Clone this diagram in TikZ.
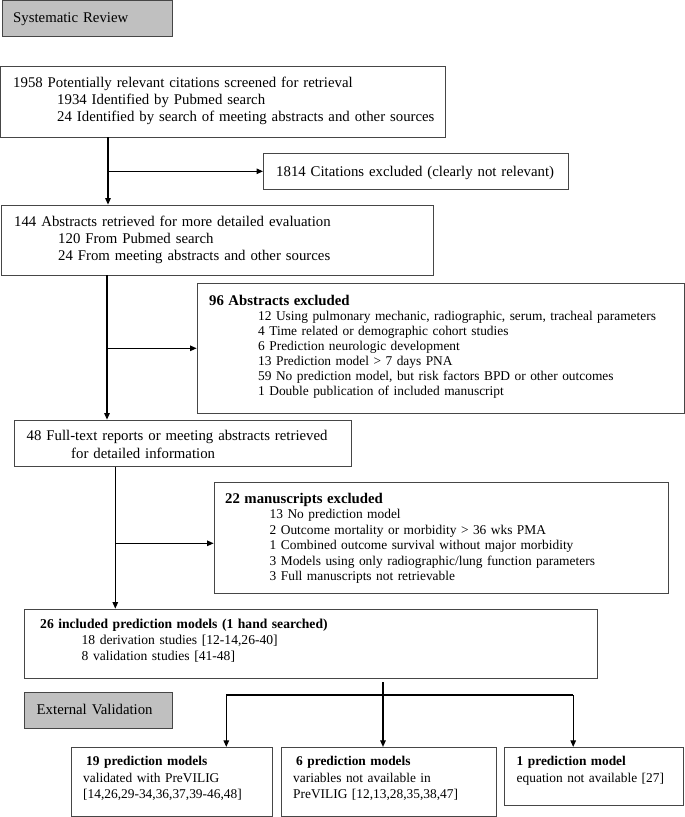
\documentclass[tikz,border=0pt]{standalone}
\usepackage{fontspec}
\setmainfont{Liberation Serif}
\usetikzlibrary{arrows.meta,fit}
\definecolor{boxgray}{RGB}{192,192,192}
\definecolor{edgec}{RGB}{70,70,70}
\newcommand\ind[1]{\hspace*{#1pt}}
\begin{document}
\begin{tikzpicture}[x=1pt,y=-1pt,
  box/.style={draw=edgec, line width=0.8pt, inner sep=0pt},
  graybox/.style={box, fill=boxgray},
  txt/.style={anchor=base west, inner sep=0pt, align=left, text width=640pt},
  wire/.style={draw=black, line width=1.1pt},
  conn/.style={wire, -{Triangle[length=6.5pt,width=5.5pt]}},
  ftop/.style={font={\fontsize{14.8}{17}\selectfont}},
  fexc/.style={font={\fontsize{13.4}{15.2}\selectfont}},
  fbot/.style={font={\fontsize{13.4}{16.7}\selectfont}},
]
\useasboundingbox (0,0) rectangle (685,817);

% boxes
\node[graybox, fit={(2,0.5) (172,36)}] (sr) {};
\node[box, fit={(0.7,66.3) (445.6,137)}] (b1) {};
\node[box, fit={(263.4,153.3) (568,189.3)}] (e1) {};
\node[box, fit={(1,205) (433,275)}] (b2) {};
\node[box, fit={(197,283) (684,413)}] (e2) {};
\node[box, fit={(14.3,420) (351.7,466.7)}] (b3) {};
\node[box, fit={(214,482.7) (668.4,593.3)}] (e3) {};
\node[box, fit={(24,609) (597.6,678.3)}] (b4) {};
\node[graybox, fit={(24,692.3) (172,728.3)}] (ev) {};
\node[box, fit={(71,747.3) (272.5,816.3)}] (c1) {};
\node[box, fit={(281.5,747.3) (495.9,816.3)}] (c2) {};
\node[box, fit={(504.6,747.3) (683.7,805)}] (c3) {};

% texts
\node[txt, ftop] (srt) at (13,22.5) {Systematic Review};
\node[txt, font={\fontsize{14.8}{16.7}\selectfont}] (b1t) at (13,87.7)
  {1958 Potentially relevant citations screened for retrieval\\
   \ind{44}1934 Identified by Pubmed search\\
   \ind{44}24 Identified by search of meeting abstracts and other sources};
\node[txt, ftop] (e1t) at (276,176) {1814 Citations excluded (clearly not relevant)};
\node[txt, font={\fontsize{14.8}{17.4}\selectfont}] (b2t) at (14,226)
  {144 Abstracts retrieved for more detailed evaluation\\
   \ind{44}120 From Pubmed search\\
   \ind{44}24 From meeting abstracts and other sources};
\node[txt, font={\fontsize{13.4}{15}\selectfont}] (e2t) at (209,305)
  {{\fontsize{14.8}{15}\selectfont\bfseries 96 Abstracts excluded}\\
   \ind{49}12 Using pulmonary mechanic, radiographic, serum, tracheal parameters\\
   \ind{49}4 Time related or demographic cohort studies\\
   \ind{49}6 Prediction neurologic development\\
   \ind{49}13 Prediction model > 7 days PNA\\
   \ind{49}59 No prediction model, but risk factors BPD or other outcomes\\
   \ind{49}1 Double publication of included manuscript};
\node[txt, font={\fontsize{14.8}{18.3}\selectfont}] (b3t) at (26.5,440)
  {48 Full-text reports or meeting abstracts retrieved\\
   \ind{44.5}for detailed information};
\node[txt, font={\fontsize{13.4}{15.4}\selectfont}] (e3t) at (225,503.5)
  {{\fontsize{14.8}{15.4}\selectfont\bfseries 22 manuscripts excluded}\\
   \ind{44.5}13 No prediction model\\
   \ind{44.5}2 Outcome mortality or morbidity > 36 wks PMA\\
   \ind{44.5}1 Combined outcome survival without major morbidity\\
   \ind{44.5}3 Models using only radiographic/lung function parameters\\
   \ind{44.5}3 Full manuscripts not retrievable};
\node[txt, font={\fontsize{13.6}{16}\selectfont}] (b4t) at (40,628.5)
  {\textbf{26 included prediction models (1 hand searched)}\\
   \ind{41.5}18 derivation studies [12-14,26-40]\\
   \ind{41.5}8 validation studies [41-48]};
\node[txt, ftop] (evt) at (36.5,714.5) {External Validation};
\node[txt, fbot] (c1t) at (83,765.5)
  {\ind{3}\textbf{19 prediction models}\\
   validated with PreVILIG\\
   {[14,26,29-34,36,37,39-46,48]}};
\node[txt, fbot] (c2t) at (293,765.5)
  {\ind{3}\textbf{6 prediction models}\\
   variables not available in\\
   PreVILIG [12,13,28,35,38,47]};
\node[txt, fbot] (c3t) at (516.5,765.5)
  {\textbf{1 prediction model}\\
   equation not available [27]};

% connectors
\coordinate (j1) at (108,171.3);
\coordinate (j2) at (107,348.3);
\coordinate (j3) at (115.3,543.3);
\draw[conn] (b1.south -| j1) -- (b2.north -| j1);
\draw[conn] (j1) -- (e1.west |- j1);
\draw[conn] (b2.south -| j2) -- (b3.north -| j2);
\draw[conn] (j2) -- (e2.west |- j2);
\draw[conn] (b3.south -| j3) -- (b4.north -| j3);
\draw[conn] (j3) -- (e3.west |- j3);

\coordinate (hm) at (383,695);
\coordinate (hl) at (226.3,695);
\coordinate (hr) at (573.2,695);
\draw[wire] ([yshift=-3.4pt]b4.south -| hm) -- (hm);
\draw[wire] (hl) -- (hr);
\draw[conn] (hm) -- (c2.north -| hm);
\draw[conn] (hl) -- (c1.north -| hl);
\draw[conn] (hr) -- (c3.north -| hr);
\end{tikzpicture}
\end{document}
